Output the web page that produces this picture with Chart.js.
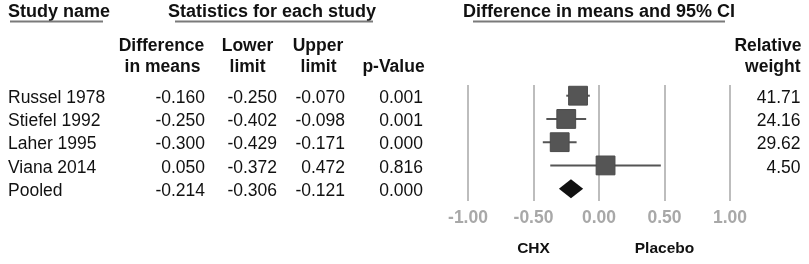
<!DOCTYPE html>
<html>
<head>
    <title>Difference in means and 95% CI</title>
    <script src="https://cdn.jsdelivr.net/npm/chart.js"></script>
    <style>
        html, body {
            margin: 0;
            padding: 0;
            background-color: #ffffff;
        }
    </style>
</head>
<body>
    <canvas id="forestChart" width="809" height="264"></canvas>

    <script>
        const studies = ['Russel 1978', 'Stiefel 1992', 'Laher 1995', 'Viana 2014', 'Pooled'];
        const diffMeans = [-0.160, -0.250, -0.300, 0.050, -0.214];
        const lowerLimit = [-0.250, -0.402, -0.429, -0.372, -0.306];
        const upperLimit = [-0.070, -0.098, -0.171, 0.472, -0.121];
        const pValues = ['0.001', '0.001', '0.000', '0.816', '0.000'];
        const relWeight = ['41.71', '24.16', '29.62', '4.50'];
        const tickValues = [-1.0, -0.5, 0.0, 0.5, 1.0];

        const FAM = "'Liberation Sans', Arial, sans-serif";
        const INK = '#111111';
        const MARK = '#555555';

        const pooledIdx = studies.length - 1;

        function put(ctx, s, x, y, align, font, color) {
            ctx.font = font;
            ctx.textAlign = align;
            ctx.textBaseline = 'alphabetic';
            ctx.fillStyle = color || INK;
            ctx.fillText(s, x, y);
        }

        // pooled diamond, drawn from the scales
        const diamondPlugin = {
            id: 'pooledDiamond',
            afterDatasetsDraw(chart) {
                const ctx = chart.ctx;
                const xs = chart.scales.x, ys = chart.scales.y;
                const ry = ys.getPixelForValue(pooledIdx);
                const xl = xs.getPixelForValue(lowerLimit[pooledIdx]);
                const xm = xs.getPixelForValue(diffMeans[pooledIdx]);
                const xr = xs.getPixelForValue(upperLimit[pooledIdx]);
                ctx.save();
                ctx.beginPath();
                ctx.moveTo(xl, ry);
                ctx.lineTo(xm, ry - 9.5);
                ctx.lineTo(xr, ry);
                ctx.lineTo(xm, ry + 9.5);
                ctx.closePath();
                ctx.fillStyle = INK;
                ctx.fill();
                ctx.restore();
            }
        };

        // the table columns left and right of the plot
        const tablePlugin = {
            id: 'forestTable',
            afterDraw(chart) {
                const ctx = chart.ctx;
                const xs = chart.scales.x, ys = chart.scales.y;
                const H1 = `bold 18px ${FAM}`;
                const H2 = `bold 17.5px ${FAM}`;
                const REG = `17.5px ${FAM}`;
                ctx.save();

                // top headers + underlines
                put(ctx, 'Study name', 8, 17.3, 'left', H1);
                put(ctx, 'Statistics for each study', 168, 17.3, 'left', H1);
                put(ctx, 'Difference in means and 95% CI', 463, 17.3, 'left', H1);
                ctx.strokeStyle = '#7a7a7a';
                ctx.lineWidth = 2;
                [[10, 103], [175, 373], [473, 725]].forEach(([a, b]) => {
                    ctx.beginPath();
                    ctx.moveTo(a, 21.5);
                    ctx.lineTo(b, 21.5);
                    ctx.stroke();
                });

                // column headers
                put(ctx, 'Difference', 161.5, 50.7, 'center', H2);
                put(ctx, 'in means', 162.5, 71.7, 'center', H2);
                put(ctx, 'Lower', 247.5, 50.7, 'center', H2);
                put(ctx, 'limit', 247.5, 71.7, 'center', H2);
                put(ctx, 'Upper', 318, 50.7, 'center', H2);
                put(ctx, 'limit', 318.5, 71.7, 'center', H2);
                put(ctx, 'p-Value', 393.5, 71.7, 'center', H2);
                put(ctx, 'Relative', 801.5, 50.7, 'right', H2);
                put(ctx, 'weight', 800.5, 71.7, 'right', H2);

                // rows
                studies.forEach((name, i) => {
                    const by = ys.getPixelForValue(i) + 7.3;
                    put(ctx, name, 8, by, 'left', REG);
                    put(ctx, diffMeans[i].toFixed(3), 205, by, 'right', REG);
                    put(ctx, lowerLimit[i].toFixed(3), 277, by, 'right', REG);
                    put(ctx, upperLimit[i].toFixed(3), 345, by, 'right', REG);
                    put(ctx, pValues[i], 423, by, 'right', REG);
                    if (i < relWeight.length) {
                        put(ctx, relWeight[i], 800.5, by, 'right', REG);
                    }
                });

                // favours labels under the axis
                put(ctx, 'CHX', xs.getPixelForValue(-0.5), 253.3, 'center', `bold 15.5px ${FAM}`);
                put(ctx, 'Placebo', xs.getPixelForValue(0.5), 253.3, 'center', `bold 15.5px ${FAM}`);

                ctx.restore();
            }
        };

        const studyIdx = studies.map((_, i) => i).filter(i => i !== pooledIdx);

        const whiskers = studyIdx.map(i => ({
            type: 'line',
            data: [{ x: lowerLimit[i], y: i }, { x: upperLimit[i], y: i }],
            borderColor: MARK,
            borderWidth: 2,
            pointRadius: 0,
            order: 2
        }));

        const squares = {
            type: 'scatter',
            data: studyIdx.map(i => ({ x: diffMeans[i], y: i })),
            pointStyle: 'rect',
            pointRadius: 13.3,
            backgroundColor: MARK,
            borderColor: '#4a4a4a',
            borderWidth: 1,
            order: 1
        };

        new Chart(document.getElementById('forestChart').getContext('2d'), {
            type: 'scatter',
            data: {
                datasets: [...whiskers, squares]
            },
            options: {
                responsive: false,
                animation: false,
                layout: {
                    padding: { left: 468, right: 79, top: 85, bottom: 28 }
                },
                plugins: {
                    legend: { display: false },
                    tooltip: { enabled: false }
                },
                scales: {
                    x: {
                        type: 'linear',
                        min: -1,
                        max: 1,
                        afterBuildTicks: (scale) => {
                            scale.ticks = tickValues.map(v => ({ value: v }));
                        },
                        ticks: {
                            callback: (v) => Number(v).toFixed(2),
                            color: '#a8a8a8',
                            padding: 7,
                            font: { family: FAM, size: 17.5, weight: 'bold' }
                        },
                        grid: {
                            color: '#bdbdbd',
                            lineWidth: 2,
                            drawTicks: false
                        },
                        border: { display: false }
                    },
                    y: {
                        type: 'linear',
                        display: false,
                        reverse: true,
                        min: -0.46,
                        max: 4.53
                    }
                }
            },
            plugins: [diamondPlugin, tablePlugin]
        });
    </script>
</body>
</html>
